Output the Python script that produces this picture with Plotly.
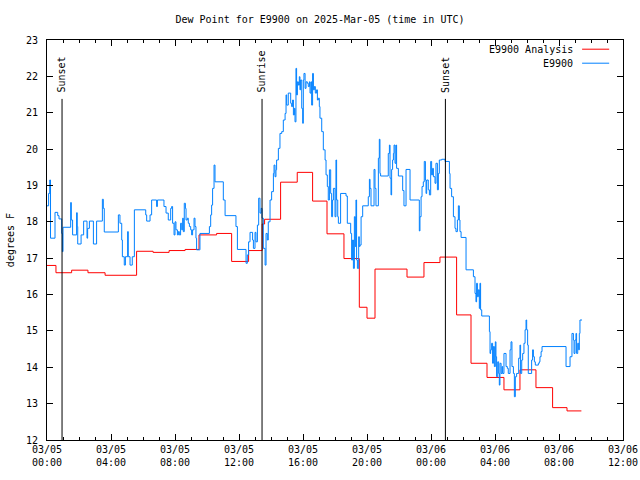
import pandas as pd
import plotly.graph_objects as go

BASE = pd.Timestamp("2025-03-05 00:00")

# E9900 Analysis (hours after 2025-03-05 00:00 UTC, deg F)
analysis_hours = [0.00, 0.56, 1.54, 2.56, 3.63, 5.60, 6.63, 7.63, 8.63, 9.50, 10.60, 11.54,
                  12.60, 13.45, 13.60, 14.60, 15.64, 16.60, 17.50, 18.56, 19.52, 20.00, 20.50,
                  22.50, 23.56, 24.56, 25.60, 26.50, 27.50, 28.56, 29.56, 30.56, 31.60, 32.50, 33.40]
analysis_vals = [16.80, 16.60, 16.67, 16.60, 16.53, 17.19, 17.16, 17.21, 17.24, 17.64, 17.68, 16.91,
                 17.21, 17.94, 18.07, 19.09, 19.36, 18.57, 17.67, 16.99, 15.65, 15.35, 16.70,
                 16.48, 16.88, 17.03, 15.44, 14.11, 13.72, 13.38, 13.93, 13.44, 12.89, 12.80, 12.80]

# E9900 observations
obs_hours = [
    0.00, 0.10, 0.17, 0.22, 0.50, 0.67, 0.75, 0.92, 0.96, 1.00, 1.48, 1.52, 1.60, 1.85, 1.89, 1.92,
    2.13, 2.29, 2.50, 2.54, 2.65, 2.90, 3.10, 3.46, 3.52, 3.58, 4.46, 4.56, 4.67, 4.71, 4.83, 4.90,
    5.04, 5.08, 5.19, 5.33, 5.46, 6.17, 6.23, 6.44, 6.54,
    6.85, 6.90, 7.31, 7.44, 7.58, 7.73, 7.79, 7.85, 7.94, 8.00, 8.06, 8.15, 8.21, 8.27, 8.35, 8.42,
    8.48, 8.52, 8.58, 8.65, 8.69, 8.77, 8.83, 8.90, 8.98, 9.04, 9.10, 9.19, 9.25, 9.31, 9.35, 9.56,
    10.15, 10.23, 10.29, 10.35, 10.44, 10.50, 11.02, 11.13, 11.81, 11.90, 12.44, 12.52, 12.60, 12.69,
    12.85, 12.90, 13.00, 13.06, 13.15, 13.23, 13.31, 13.38, 13.44, 13.52, 13.63,
    13.69, 13.77, 13.83, 13.94, 14.04, 14.15, 14.19, 14.25, 14.31, 14.35, 14.46, 14.56, 14.67, 14.77,
    14.88, 14.94, 14.98, 15.08, 15.23, 15.29, 15.35, 15.40, 15.46, 15.50, 15.56, 15.60, 15.65, 15.71,
    15.77, 15.81, 15.85, 15.92, 15.98, 16.02, 16.06, 16.13, 16.19, 16.27, 16.33, 16.40, 16.44, 16.50,
    16.54, 16.60, 16.65, 16.71, 16.77, 16.85, 16.90, 16.96, 17.02, 17.06, 17.17, 17.27, 17.38, 17.44,
    17.52, 17.58, 17.65, 17.73, 17.79, 17.85, 17.90, 18.00, 18.06, 18.10, 18.17, 18.21, 18.35, 18.69,
    18.77, 18.98, 19.04, 19.10, 19.15, 19.21, 19.27, 19.31, 19.35, 19.40, 19.48, 19.52, 19.56, 19.63,
    19.73, 20.08, 20.15, 20.19, 20.25, 20.44, 20.50, 20.56, 20.71, 20.77, 20.81, 20.85, 21.33, 21.40,
    21.44, 21.50, 21.54, 21.60, 21.65, 21.69, 21.75, 21.81, 21.85, 21.96, 22.23, 22.31, 22.44, 22.69,
    23.27, 23.31, 23.38, 23.44, 23.52, 23.58, 23.65, 23.69, 23.73, 23.83, 23.90, 23.98, 24.04, 24.10,
    24.15, 24.25, 24.31, 24.40, 24.46, 24.52, 24.67, 24.88, 25.15, 25.19, 25.29, 25.40, 25.50, 25.56,
    25.65, 25.71, 25.77, 25.81, 25.88, 26.19, 26.65, 26.75, 26.81, 26.85, 26.90, 26.96, 27.02, 27.06,
    27.10, 27.17, 27.65, 27.69, 27.73, 27.79, 27.85, 27.90, 27.96, 28.02, 28.06, 28.10, 28.17, 28.23,
    28.27, 28.31, 28.38, 28.44, 28.48, 28.56, 28.69, 28.77, 28.83, 28.94, 29.00, 29.06, 29.15, 29.21,
    29.27, 29.35, 29.48, 29.56, 29.60, 29.67, 29.73, 29.81, 29.88, 29.94, 29.98, 30.04, 30.08, 30.29,
    30.35, 30.40, 30.46, 30.52, 30.71, 30.77, 30.81, 30.88, 30.94, 32.44, 32.69, 32.81, 32.90, 32.94,
    33.00, 33.06, 33.10, 33.17, 33.23, 33.27, 33.31, 33.44]
obs_vals = [
    18.44, 18.78, 19.15, 17.55, 18.26, 18.17, 18.08, 17.68, 17.18, 17.85, 18.53, 18.05, 17.64, 18.25, 17.87, 17.39,
    17.64, 18.02, 17.55, 17.82, 18.02, 17.39, 18.02, 18.62, 18.37, 17.72, 18.19, 17.96, 17.50, 17.04, 16.81, 17.04,
    17.73, 17.04, 16.81, 17.04, 18.33, 18.19, 18.02, 18.19, 18.60,
    18.42, 18.60, 18.42, 18.24, 18.05, 18.37, 18.42, 17.96, 17.64, 18.00, 17.78, 17.64, 17.73, 17.64, 17.96, 17.78,
    18.10, 17.73, 18.51, 18.37, 18.05, 18.10, 17.96, 17.87, 17.78, 17.64, 17.78, 18.10, 17.87, 17.55, 17.23, 17.68,
    17.87, 18.19, 18.46, 18.92, 19.56, 19.10, 18.60, 18.17, 17.87, 17.24, 16.86, 17.09, 17.45, 17.71,
    17.50, 17.27, 17.71, 17.45, 17.91, 18.65, 18.24, 18.37, 18.10, 17.27, 16.81,
    17.68, 17.50, 18.00, 18.60, 18.83, 19.33, 19.56, 19.24, 19.43, 19.70, 20.02, 20.43, 20.48, 20.80,
    20.98, 21.49, 21.21, 21.54, 21.26, 21.17, 21.35, 20.94, 21.12, 20.75, 22.22, 21.49, 21.85, 21.76,
    21.99, 21.63, 21.90, 21.12, 20.71, 21.90, 22.08, 21.67, 21.85, 21.81, 21.72, 21.85, 21.54, 21.85,
    21.21, 22.08, 21.63, 21.72, 21.54, 21.63, 21.35, 21.40, 21.17, 20.85, 20.48, 19.98, 19.70, 19.29,
    18.97, 18.60, 19.43, 18.78, 18.14, 18.60, 18.92, 18.14, 19.70, 18.60, 18.14, 17.96, 18.78, 18.71,
    17.96, 17.68, 16.95, 17.50, 16.72, 18.14, 17.32, 18.60, 16.95, 16.72, 17.59, 17.32, 17.36, 18.14,
    18.44, 18.69, 19.17, 18.92, 18.44, 19.44, 18.92, 18.44, 19.75, 20.27, 19.33, 19.26, 19.88, 20.11,
    19.20, 18.74, 19.44, 19.70, 19.88, 20.11, 19.61, 20.11, 19.47, 19.26, 18.86, 18.44, 19.44, 18.60,
    17.75, 18.14, 18.69, 18.97, 19.10, 19.66, 19.15, 18.78, 19.15, 18.88, 18.74, 19.66, 19.29, 19.47,
    19.24, 19.06, 19.61, 18.88, 19.33, 19.70, 19.72, 19.66, 19.33, 18.92, 18.69, 18.14, 17.82, 17.73,
    18.05, 18.44, 18.05, 17.73, 17.57, 16.68, 16.49, 16.03, 15.80, 16.31, 15.94, 16.13, 15.62, 16.31,
    15.58, 15.41, 14.98, 14.38, 14.48, 14.66, 14.11, 14.57, 14.02, 14.70, 14.29, 13.74, 14.15, 13.83,
    13.51, 14.11, 13.83, 14.02, 13.83, 14.38, 14.02, 13.97, 13.83, 14.48, 14.70, 14.02, 13.83, 13.19,
    13.74, 13.83, 14.25, 14.61, 13.83, 14.20, 14.38, 14.66, 15.03, 15.30, 15.03, 14.61, 13.83, 14.20,
    14.48, 14.29, 14.15, 14.06, 14.11, 14.15, 14.29, 14.43, 14.57, 14.02, 14.29, 14.93, 14.75, 14.38,
    14.75, 14.93, 14.38, 14.66, 14.48, 14.93, 15.30, 15.30]

# Sun events
event_labels = ["Sunset", "Sunrise", "Sunset"]
event_hours = [0.94, 13.44, 24.90]

series_names = ["E9900 Analysis", "E9900"]
series_colors = ["#ff0000", "#0080ff"]

title_text = "Dew Point for E9900 on 2025-Mar-05 (time in UTC)"
y_title = "degrees F"


def to_time(hours):
    return BASE + pd.to_timedelta(pd.Series(hours, dtype=float), unit="h")


FONT = "DejaVu Sans Mono"
fig = go.Figure()
fig.add_trace(go.Scatter(x=to_time(analysis_hours), y=analysis_vals, mode="lines",
                         line=dict(color=series_colors[0], width=1, shape="hv"),
                         name=series_names[0], showlegend=False))
fig.add_trace(go.Scatter(x=to_time(obs_hours), y=obs_vals, mode="lines",
                         line=dict(color=series_colors[1], width=1, shape="hv"),
                         name=series_names[1], showlegend=False))

ev_times = to_time(event_hours)
for lab, t in zip(event_labels, ev_times):
    fig.add_shape(type="line", x0=t, x1=t, y0=12, y1=21.38, xref="x", yref="y",
                  line=dict(color="black", width=1))
    fig.add_annotation(x=t, y=21.5, xref="x", yref="y", text=lab, textangle=-90,
                       showarrow=False, xanchor="center", yanchor="bottom",
                       font=dict(family=FONT, size=10, color="black"))

# gnuplot-style legend (text right, sample line to the right)
leg_y = [0.977, 0.942]
for name, col, ly in zip(series_names, series_colors, leg_y):
    fig.add_annotation(x=0.917, y=ly, xref="paper", yref="paper", text=name, showarrow=False,
                       xanchor="right", yanchor="middle", font=dict(family=FONT, size=10, color="black"))
    fig.add_shape(type="line", x0=0.929, x1=0.976, y0=ly, y1=ly, xref="paper", yref="paper",
                  line=dict(color=col, width=1))

# y-axis title as rotated text at the far left
fig.add_annotation(x=-0.064, y=0.5, xref="paper", yref="paper", text=y_title, textangle=-90,
                   showarrow=False, xanchor="center", yanchor="middle",
                   font=dict(family=FONT, size=10, color="black"))

fig.update_layout(
    width=640, height=480,
    margin=dict(l=47, r=17, t=40, b=40, autoexpand=False),
    paper_bgcolor="white", plot_bgcolor="white",
    font=dict(family=FONT, size=10, color="black"),
    title=dict(text=title_text, x=0.5, xanchor="center", y=0.96, yanchor="middle",
               yref="container", automargin=False, font=dict(family=FONT, size=10)),
)
fig.update_xaxes(
    type="date", automargin=False,
    range=[BASE, BASE + pd.Timedelta(hours=36)],
    tick0=BASE, dtick=4 * 3600 * 1000, tickformat="%m/%d<br>%H:%M",
    ticks="inside", ticklen=6, tickcolor="black", tickwidth=1,
    minor=dict(dtick=3600 * 1000, ticks="inside", ticklen=3, tickcolor="black", showgrid=False),
    showgrid=False, zeroline=False, showline=True, linecolor="black", linewidth=1, mirror="allticks",
    tickfont=dict(family=FONT, size=10),
)
fig.update_yaxes(
    automargin=False,
    range=[12, 23], dtick=1, tick0=12,
    ticks="inside", ticklen=6, tickcolor="black", tickwidth=1,
    showgrid=False, zeroline=False, showline=True, linecolor="black", linewidth=1, mirror="allticks",
    ticklabelstandoff=6,
    tickfont=dict(family=FONT, size=10),
)

fig.write_html("out.html", config={"displayModeBar": False},
               post_script="document.body.style.margin='0';document.body.style.overflow='hidden';")
